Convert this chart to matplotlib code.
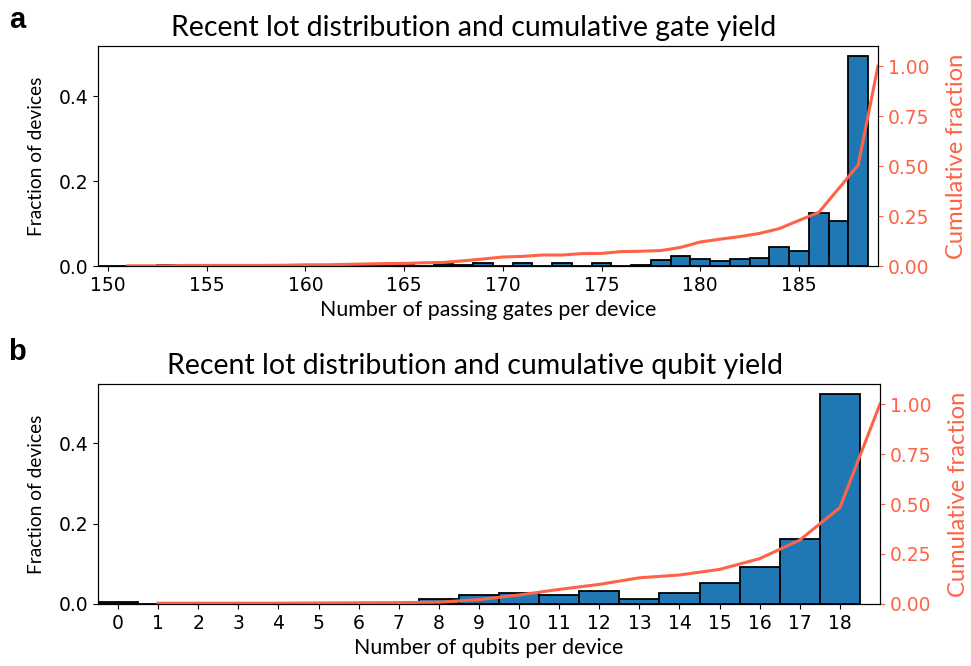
import matplotlib

matplotlib.use("Agg")
import matplotlib.pyplot as plt
import numpy as np

# gate yield: fraction of devices per number of passing gates
GATES = np.arange(150, 189)
GATE_FRACTION = [
    0.000, 0.000, 0.000, 0.002, 0.000, 0.000, 0.000, 0.000, 0.000, 0.002,
    0.001, 0.000, 0.000, 0.000, 0.000, 0.003, 0.001, 0.005, 0.002, 0.008,
    0.001, 0.006, 0.000, 0.008, 0.000, 0.008, 0.000, 0.002, 0.014, 0.024,
    0.017, 0.012, 0.017, 0.020, 0.045, 0.036, 0.125, 0.107, 0.493,
]
GATE_CUM_X = np.arange(151, 190)
GATE_CUM = [
    0.001, 0.001, 0.001, 0.003, 0.003, 0.003, 0.003, 0.003, 0.004, 0.006,
    0.006, 0.008, 0.010, 0.012, 0.013, 0.016, 0.018, 0.026, 0.035, 0.045,
    0.048, 0.055, 0.055, 0.062, 0.063, 0.072, 0.074, 0.077, 0.093, 0.120,
    0.134, 0.147, 0.163, 0.187, 0.228, 0.268, 0.386, 0.505, 1.000,
]

# qubit yield: fraction of devices per number of working qubits
QUBITS = np.arange(0, 19)
QUBIT_FRACTION = [
    0.004, 0.000, 0.000, 0.000, 0.001, 0.001, 0.001, 0.002, 0.012, 0.022,
    0.028, 0.023, 0.033, 0.013, 0.028, 0.053, 0.093, 0.161, 0.522,
]
QUBIT_CUM_X = np.arange(1, 20)
QUBIT_CUM = [
    0.004, 0.004, 0.004, 0.004, 0.005, 0.006, 0.007, 0.009, 0.022, 0.045,
    0.073, 0.098, 0.131, 0.145, 0.173, 0.227, 0.320, 0.482, 1.000,
]

BAR_COLOR = "#1f77b4"
CUM_COLOR = "tomato"
LABEL_FONT = ["Lato", "DejaVu Sans"]

plt.rcParams.update({
    "font.family": "DejaVu Sans",
    "xtick.labelsize": 13.5,
    "ytick.labelsize": 13.5,
})


def draw_panel(fig, rect, x, frac, cx, cum, xlim, title, xlabel, letter, letter_y):
    ax = fig.add_axes(rect)
    ax.bar(x, frac, width=1.0, color=BAR_COLOR, edgecolor="black", linewidth=1.3)
    ax.set_xlim(xlim)
    ax.set_ylim(0, max(frac) * 1.05)
    ax.set_yticks([0.0, 0.2, 0.4])
    ax.set_ylabel("Fraction of devices", family=LABEL_FONT, fontsize=13.8,
                  labelpad=10)
    ax.set_xlabel(xlabel, family=LABEL_FONT, fontsize=15.4, labelpad=4)
    ax.set_title(title, family=LABEL_FONT, fontsize=20.5, x=0.482, pad=7)

    ax2 = ax.twinx()
    ax2.plot(cx, cum, color=CUM_COLOR, lw=2.2)
    ax2.set_ylim(0, 1.1)
    ax2.set_yticks([0.0, 0.25, 0.5, 0.75, 1.0])
    ax2.tick_params(axis="y", colors=CUM_COLOR)
    ax2.set_ylabel("Cumulative fraction", color=CUM_COLOR, family=LABEL_FONT,
                   fontsize=17.1, labelpad=12)
    ax2.set_xlim(xlim)

    fig.text(0.018, letter_y, letter, fontsize=21, weight="bold",
             family="Liberation Sans", ha="center", va="center")
    return ax


fig = plt.figure(figsize=(9.71, 6.66), dpi=100)

top = draw_panel(
    fig, [0.1009, 0.6006, 0.8033, 0.3303], GATES, GATE_FRACTION,
    GATE_CUM_X, GATE_CUM, (149.5, 189),
    "Recent lot distribution and cumulative gate yield",
    "Number of passing gates per device", "a", 1 - 20 / 666,
)
top.set_xticks(np.arange(150, 186, 5))

bottom = draw_panel(
    fig, [0.1009, 0.0931, 0.8054, 0.3303], QUBITS, QUBIT_FRACTION,
    QUBIT_CUM_X, QUBIT_CUM, (-0.5, 19),
    "Recent lot distribution and cumulative qubit yield",
    "Number of qubits per device", "b", 1 - 352 / 666,
)
bottom.set_xticks(QUBITS)

fig.savefig("out.png", dpi=100, facecolor="white")
